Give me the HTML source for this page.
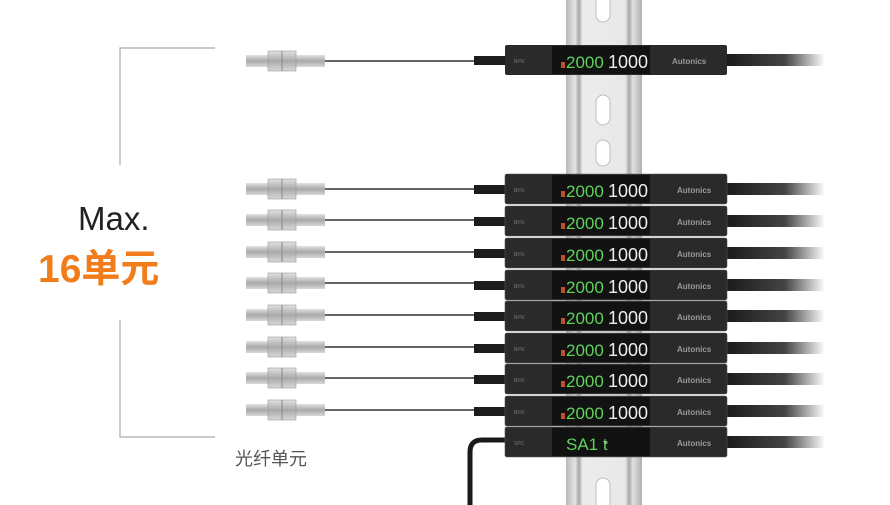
<!DOCTYPE html>
<html><head><meta charset="utf-8"><style>
html,body{margin:0;padding:0;background:#fff;}
svg{display:block}
.lt{font-family:"Liberation Sans",sans-serif}
.cj{font-family:"Liberation Sans","Noto Sans CJK SC",sans-serif}
</style></head><body>
<svg width="890" height="505" viewBox="0 0 890 505" xmlns="http://www.w3.org/2000/svg">
<defs>
<linearGradient id="rail" x1="0" x2="1">
<stop offset="0" stop-color="#b8b8b8"/><stop offset="0.12" stop-color="#e4e4e4"/><stop offset="0.17" stop-color="#a8a8a8"/><stop offset="0.22" stop-color="#ececec"/><stop offset="0.78" stop-color="#e8e8e8"/><stop offset="0.83" stop-color="#a8a8a8"/><stop offset="0.88" stop-color="#e0e0e0"/><stop offset="1" stop-color="#b0b0b0"/>
</linearGradient>
<linearGradient id="fade" x1="0" x2="1"><stop offset="0" stop-color="#1a1a1a"/><stop offset="0.6" stop-color="#444"/><stop offset="1" stop-color="#fff"/></linearGradient>
<linearGradient id="metal" x1="0" y1="0" x2="0" y2="1"><stop offset="0" stop-color="#e2e2e2"/><stop offset="0.5" stop-color="#a9a9a9"/><stop offset="1" stop-color="#d8d8d8"/></linearGradient>
</defs>
<rect x="566" y="0" width="76" height="505" fill="url(#rail)"/>
<g fill="#fff" stroke="#bdbdbd">
<rect x="596" y="-8" width="14" height="30" rx="7"/>
<rect x="596" y="95" width="14" height="30" rx="7"/>
<rect x="596" y="140" width="14" height="26" rx="7"/>
<rect x="596" y="478" width="14" height="34" rx="7"/>
</g>
<g stroke="#aaa" stroke-width="1.2" fill="none">
<path d="M215 48 H120 V165"/><path d="M120 320 V437 H215"/>
</g>
<text x="78" y="230" font-size="33" class="lt" fill="#222">Max.</text>
<text x="38" y="282" font-size="39" font-weight="bold" class="cj" fill="#f07d1a">16单元</text>
<text x="235" y="465" font-size="18" class="cj" fill="#555">光纤单元</text>

<path d="M505 440 H482 Q470 440 470 452 V505" stroke="#1a1a1a" stroke-width="5" fill="none"/>
<g fill="none" stroke="#333" stroke-width="1.6">
<path d="M325 61 H475"/><path d="M325 189 H475"/><path d="M325 220 H475"/><path d="M325 252 H475"/><path d="M325 283 H475"/><path d="M325 315 H475"/><path d="M325 347 H475"/><path d="M325 378 H475"/><path d="M325 410 H475"/>
</g>
<g>
<g transform="translate(0,61)"><rect x="246" y="-6" width="79" height="12" fill="url(#metal)"/><rect x="268" y="-10" width="28" height="20" fill="url(#metal)" stroke="#999" stroke-width=".6"/><line x1="282" y1="-10" x2="282" y2="10" stroke="#888"/></g>
<g transform="translate(0,189)"><rect x="246" y="-6" width="79" height="12" fill="url(#metal)"/><rect x="268" y="-10" width="28" height="20" fill="url(#metal)" stroke="#999" stroke-width=".6"/><line x1="282" y1="-10" x2="282" y2="10" stroke="#888"/></g>
<g transform="translate(0,220)"><rect x="246" y="-6" width="79" height="12" fill="url(#metal)"/><rect x="268" y="-10" width="28" height="20" fill="url(#metal)" stroke="#999" stroke-width=".6"/><line x1="282" y1="-10" x2="282" y2="10" stroke="#888"/></g>
<g transform="translate(0,252)"><rect x="246" y="-6" width="79" height="12" fill="url(#metal)"/><rect x="268" y="-10" width="28" height="20" fill="url(#metal)" stroke="#999" stroke-width=".6"/><line x1="282" y1="-10" x2="282" y2="10" stroke="#888"/></g>
<g transform="translate(0,283)"><rect x="246" y="-6" width="79" height="12" fill="url(#metal)"/><rect x="268" y="-10" width="28" height="20" fill="url(#metal)" stroke="#999" stroke-width=".6"/><line x1="282" y1="-10" x2="282" y2="10" stroke="#888"/></g>
<g transform="translate(0,315)"><rect x="246" y="-6" width="79" height="12" fill="url(#metal)"/><rect x="268" y="-10" width="28" height="20" fill="url(#metal)" stroke="#999" stroke-width=".6"/><line x1="282" y1="-10" x2="282" y2="10" stroke="#888"/></g>
<g transform="translate(0,347)"><rect x="246" y="-6" width="79" height="12" fill="url(#metal)"/><rect x="268" y="-10" width="28" height="20" fill="url(#metal)" stroke="#999" stroke-width=".6"/><line x1="282" y1="-10" x2="282" y2="10" stroke="#888"/></g>
<g transform="translate(0,378)"><rect x="246" y="-6" width="79" height="12" fill="url(#metal)"/><rect x="268" y="-10" width="28" height="20" fill="url(#metal)" stroke="#999" stroke-width=".6"/><line x1="282" y1="-10" x2="282" y2="10" stroke="#888"/></g>
<g transform="translate(0,410)"><rect x="246" y="-6" width="79" height="12" fill="url(#metal)"/><rect x="268" y="-10" width="28" height="20" fill="url(#metal)" stroke="#999" stroke-width=".6"/><line x1="282" y1="-10" x2="282" y2="10" stroke="#888"/></g>
</g>

<g class="lt">
<g transform="translate(0,60)"><rect x="474" y="-4" width="34" height="9" fill="#1c1c1c"/><rect x="725" y="-6" width="100" height="12" fill="url(#fade)"/><rect x="505" y="-15" width="222" height="30" rx="2" fill="#2a2a2a"/><rect x="552" y="-14" width="98" height="28" fill="#121212"/><text x="514" y="3" font-size="5" fill="#777">BFN</text><rect x="561" y="2" width="4" height="6" fill="#c0502a"/><text x="566" y="8" font-size="17" fill="#5fd35a">2000</text><text x="608" y="8" font-size="18" fill="#eee">1000</text><text x="672" y="4" font-size="8" font-weight="bold" fill="#999">Autonics</text></g>
<g transform="translate(0,189)"><rect x="474" y="-4" width="34" height="9" fill="#1c1c1c"/><rect x="725" y="-6" width="100" height="12" fill="url(#fade)"/><rect x="505" y="-15" width="222" height="30" rx="2" fill="#2a2a2a" stroke="#555" stroke-width=".6"/><rect x="552" y="-14" width="98" height="28" fill="#121212"/><text x="514" y="3" font-size="5" fill="#777">BFN</text><rect x="561" y="2" width="4" height="6" fill="#c0502a"/><text x="566" y="8" font-size="17" fill="#5fd35a">2000</text><text x="608" y="8" font-size="18" fill="#eee">1000</text><text x="677" y="4" font-size="8" font-weight="bold" fill="#999">Autonics</text></g>
<g transform="translate(0,221)"><rect x="474" y="-4" width="34" height="9" fill="#1c1c1c"/><rect x="725" y="-6" width="100" height="12" fill="url(#fade)"/><rect x="505" y="-15" width="222" height="30" rx="2" fill="#2a2a2a" stroke="#555" stroke-width=".6"/><rect x="552" y="-14" width="98" height="28" fill="#121212"/><text x="514" y="3" font-size="5" fill="#777">BFN</text><rect x="561" y="2" width="4" height="6" fill="#c0502a"/><text x="566" y="8" font-size="17" fill="#5fd35a">2000</text><text x="608" y="8" font-size="18" fill="#eee">1000</text><text x="677" y="4" font-size="8" font-weight="bold" fill="#999">Autonics</text></g>
<g transform="translate(0,253)"><rect x="474" y="-4" width="34" height="9" fill="#1c1c1c"/><rect x="725" y="-6" width="100" height="12" fill="url(#fade)"/><rect x="505" y="-15" width="222" height="30" rx="2" fill="#2a2a2a" stroke="#555" stroke-width=".6"/><rect x="552" y="-14" width="98" height="28" fill="#121212"/><text x="514" y="3" font-size="5" fill="#777">BFN</text><rect x="561" y="2" width="4" height="6" fill="#c0502a"/><text x="566" y="8" font-size="17" fill="#5fd35a">2000</text><text x="608" y="8" font-size="18" fill="#eee">1000</text><text x="677" y="4" font-size="8" font-weight="bold" fill="#999">Autonics</text></g>
<g transform="translate(0,285)"><rect x="474" y="-4" width="34" height="9" fill="#1c1c1c"/><rect x="725" y="-6" width="100" height="12" fill="url(#fade)"/><rect x="505" y="-15" width="222" height="30" rx="2" fill="#2a2a2a" stroke="#555" stroke-width=".6"/><rect x="552" y="-14" width="98" height="28" fill="#121212"/><text x="514" y="3" font-size="5" fill="#777">BFN</text><rect x="561" y="2" width="4" height="6" fill="#c0502a"/><text x="566" y="8" font-size="17" fill="#5fd35a">2000</text><text x="608" y="8" font-size="18" fill="#eee">1000</text><text x="677" y="4" font-size="8" font-weight="bold" fill="#999">Autonics</text></g>
<g transform="translate(0,316)"><rect x="474" y="-4" width="34" height="9" fill="#1c1c1c"/><rect x="725" y="-6" width="100" height="12" fill="url(#fade)"/><rect x="505" y="-15" width="222" height="30" rx="2" fill="#2a2a2a" stroke="#555" stroke-width=".6"/><rect x="552" y="-14" width="98" height="28" fill="#121212"/><text x="514" y="3" font-size="5" fill="#777">BFN</text><rect x="561" y="2" width="4" height="6" fill="#c0502a"/><text x="566" y="8" font-size="17" fill="#5fd35a">2000</text><text x="608" y="8" font-size="18" fill="#eee">1000</text><text x="677" y="4" font-size="8" font-weight="bold" fill="#999">Autonics</text></g>
<g transform="translate(0,348)"><rect x="474" y="-4" width="34" height="9" fill="#1c1c1c"/><rect x="725" y="-6" width="100" height="12" fill="url(#fade)"/><rect x="505" y="-15" width="222" height="30" rx="2" fill="#2a2a2a" stroke="#555" stroke-width=".6"/><rect x="552" y="-14" width="98" height="28" fill="#121212"/><text x="514" y="3" font-size="5" fill="#777">BFN</text><rect x="561" y="2" width="4" height="6" fill="#c0502a"/><text x="566" y="8" font-size="17" fill="#5fd35a">2000</text><text x="608" y="8" font-size="18" fill="#eee">1000</text><text x="677" y="4" font-size="8" font-weight="bold" fill="#999">Autonics</text></g>
<g transform="translate(0,379)"><rect x="474" y="-4" width="34" height="9" fill="#1c1c1c"/><rect x="725" y="-6" width="100" height="12" fill="url(#fade)"/><rect x="505" y="-15" width="222" height="30" rx="2" fill="#2a2a2a" stroke="#555" stroke-width=".6"/><rect x="552" y="-14" width="98" height="28" fill="#121212"/><text x="514" y="3" font-size="5" fill="#777">BFN</text><rect x="561" y="2" width="4" height="6" fill="#c0502a"/><text x="566" y="8" font-size="17" fill="#5fd35a">2000</text><text x="608" y="8" font-size="18" fill="#eee">1000</text><text x="677" y="4" font-size="8" font-weight="bold" fill="#999">Autonics</text></g>
<g transform="translate(0,411)"><rect x="474" y="-4" width="34" height="9" fill="#1c1c1c"/><rect x="725" y="-6" width="100" height="12" fill="url(#fade)"/><rect x="505" y="-15" width="222" height="30" rx="2" fill="#2a2a2a" stroke="#555" stroke-width=".6"/><rect x="552" y="-14" width="98" height="28" fill="#121212"/><text x="514" y="3" font-size="5" fill="#777">BFN</text><rect x="561" y="2" width="4" height="6" fill="#c0502a"/><text x="566" y="8" font-size="17" fill="#5fd35a">2000</text><text x="608" y="8" font-size="18" fill="#eee">1000</text><text x="677" y="4" font-size="8" font-weight="bold" fill="#999">Autonics</text></g>
<g transform="translate(0,442)"><rect x="725" y="-6" width="100" height="12" fill="url(#fade)"/><rect x="505" y="-15" width="222" height="30" rx="2" fill="#2a2a2a" stroke="#555" stroke-width=".6"/><rect x="552" y="-14" width="98" height="28" fill="#121212"/><text x="514" y="3" font-size="5" fill="#777">SPC</text><text x="566" y="8" font-size="17" fill="#5fd35a">SA1 t</text><text x="604" y="4" font-size="12" fill="#eee">-</text><text x="677" y="4" font-size="8" font-weight="bold" fill="#999">Autonics</text></g>
</g>
</svg>
</body></html>
